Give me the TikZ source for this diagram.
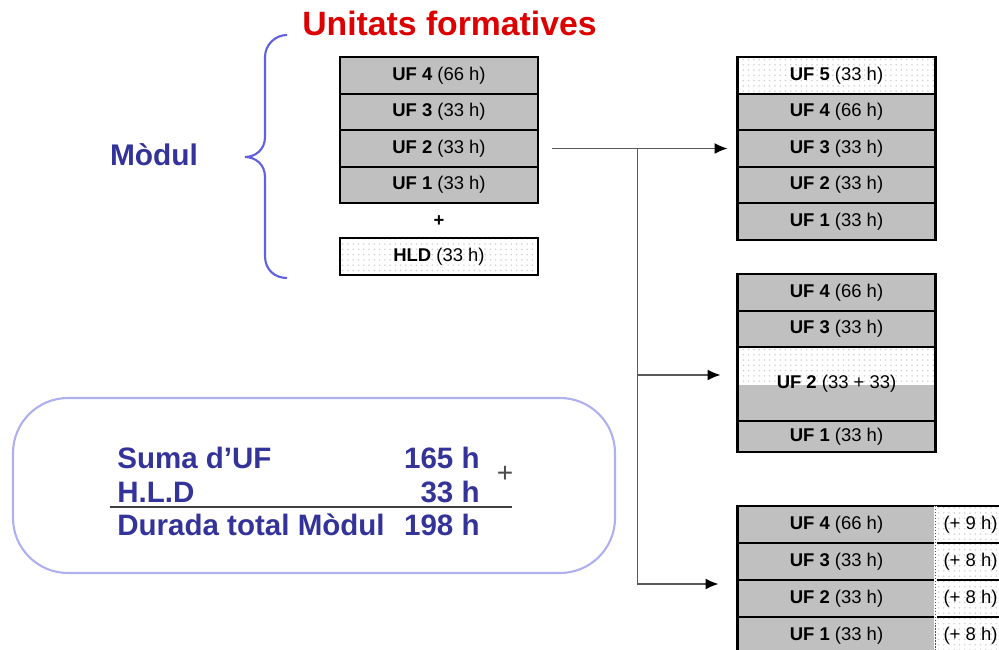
\documentclass[tikz,border=0pt]{standalone}
\usepackage{fontspec}
\setmainfont{Liberation Sans}
\usetikzlibrary{positioning,patterns,arrows.meta}

\definecolor{ufgray}{RGB}{192,192,192}
\definecolor{modblue}{RGB}{51,51,153}
\definecolor{titlered}{RGB}{220,0,0}
\definecolor{bracecol}{RGB}{96,96,224}
\definecolor{framecol}{RGB}{176,176,240}

\begin{document}
\begin{tikzpicture}[
    ufbox/.style={rectangle,draw,line width=1.2pt,fill=ufgray,minimum width=3.96cm,
      minimum height=0.73cm,inner sep=0pt,outer sep=0pt,font=\fontsize{10.5}{12}\selectfont},
    dotbox/.style={ufbox,fill=white,path picture={
        \fill[pattern=dots,pattern color=gray!35] (path picture bounding box.south west)
          rectangle (path picture bounding box.north east);}},
    link/.style={-{Latex[length=2.6mm,width=2.2mm,color=black]},draw=black!65,line width=0.8pt},
    bigtext/.style={inner sep=0pt,font=\fontsize{16.8}{20}\selectfont\bfseries,text=modblue}
    ]

    \useasboundingbox (0,0) rectangle (19.98,-13);
    \clip (0,0) rectangle (19.98,-13);

    % title and module label:
    \node (title) at (8.99,-0.72) [anchor=base,inner sep=0pt,text=titlered,
      font=\fontsize{19.2}{22}\selectfont\bfseries] {Unitats formatives};
    \node (modul) at (3.08,-3.32) [anchor=base,inner sep=0pt,text=modblue,
      font=\fontsize{17}{20}\selectfont\bfseries] {Mòdul};

    % brace:
    \draw[bracecol,line width=1.2pt] (5.74,-0.70) .. controls (5.50,-0.70) and (5.30,-0.90) .. (5.30,-1.14)
      -- (5.30,-2.74) .. controls (5.30,-3.00) and (5.10,-3.14) .. (4.90,-3.14)
      .. controls (5.10,-3.14) and (5.30,-3.28) .. (5.30,-3.54)
      -- (5.30,-5.12) .. controls (5.30,-5.40) and (5.50,-5.56) .. (5.74,-5.56);

    % left stack:
    \foreach \n/\h in {4/66,3/33,2/33,1/33}
    \node (l\n) at (8.78, -1.51 - 0.73*4 + 0.73*\n) [ufbox] {\textbf{UF \n} (\h~h)};

    \node (plus) at (8.78,-4.42) [font=\fontsize{10.5}{12}\selectfont\bfseries] {+};
    \node (hld) at (8.78,-5.13) [dotbox] {\textbf{HLD} (33~h)};

    % first result:
    \node (a5) at (16.73,-1.51) [dotbox] {\textbf{UF 5} (33~h)};
    \foreach \n/\h in {4/66,3/33,2/33,1/33}
    \node (a\n) at (16.73, -1.51 - 0.73*5 + 0.73*\n) [ufbox] {\textbf{UF \n} (\h~h)};

    % second result:
    \node (b4) at (16.73,-5.85) [ufbox,minimum height=0.74cm] {\textbf{UF 4} (66~h)};
    \node (b3) [ufbox,minimum height=0.72cm,below=0pt of b4] {\textbf{UF 3} (33~h)};
    \node (b2) [ufbox,minimum height=1.48cm,below=0pt of b3,path picture={
        \fill[white] (path picture bounding box.north west) rectangle ([yshift=-0.02cm]path picture bounding box.east);
        \fill[pattern=dots,pattern color=gray!35] (path picture bounding box.north west)
          rectangle ([yshift=-0.02cm]path picture bounding box.east);}]
      {\textbf{UF 2} (33 + 33)};
    \node (b1) [ufbox,minimum height=0.62cm,below=0pt of b2] {\textbf{UF 1} (33~h)};

    % third result:
    \foreach \n/\h/\x in {4/66/9,3/33/8,2/33/8,1/33/8} {
      \node (c\n) at (16.73, -10.49 - 0.74*4 + 0.74*\n) [ufbox,minimum height=0.74cm] {\textbf{UF \n} (\h~h)};
      \node (e\n) [dotbox,minimum width=1.4cm,minimum height=0.74cm,right=0pt of c\n] {(+ \x~h)};
    }
    \draw[white,line width=1.2pt] (c4.north east) -- (c1.south east);
    \draw[black!70,densely dotted,line width=0.7pt] (c4.north east) -- (c1.south east);

    % connections:
    \draw[link,shorten <=0.28cm,shorten >=0.2cm] (l2.east) -- coordinate[midway] (j) (a3.west);
    \draw[link,shorten >=0.34cm] (j) |- ([yshift=0.18cm]b2.west);
    \draw[link,shorten >=0.38cm] (j) |- ([yshift=-0.08cm]c2.north west);

    % sum box:
    \node (sumbox) at (6.28,-9.71) [draw=framecol,line width=1.2pt,rounded corners=1.1cm,
      minimum width=12.04cm,minimum height=3.5cm] {};
    \node (suma) at (2.34,-9.36) [bigtext,anchor=base west] {Suma d’UF};
    \node (sumah) at (9.60,-9.36) [bigtext,anchor=base east] {165 h};
    \node (hldt) at (2.34,-10.04) [bigtext,anchor=base west] {H.L.D};
    \node (hldh) at (9.60,-10.04) [bigtext,anchor=base east] {33 h};
    \node (total) at (2.34,-10.71) [bigtext,anchor=base west] {Durada total Mòdul};
    \node (totalh) at (9.60,-10.71) [bigtext,anchor=base east] {198 h};
    \node (sumplus) at (10.10,-9.48) [text=black!70,font=\fontsize{16}{18}\selectfont] {+};
    \draw[black!75,line width=1pt] (2.2,-10.14) -- (10.24,-10.14);

  \end{tikzpicture}
\end{document}
